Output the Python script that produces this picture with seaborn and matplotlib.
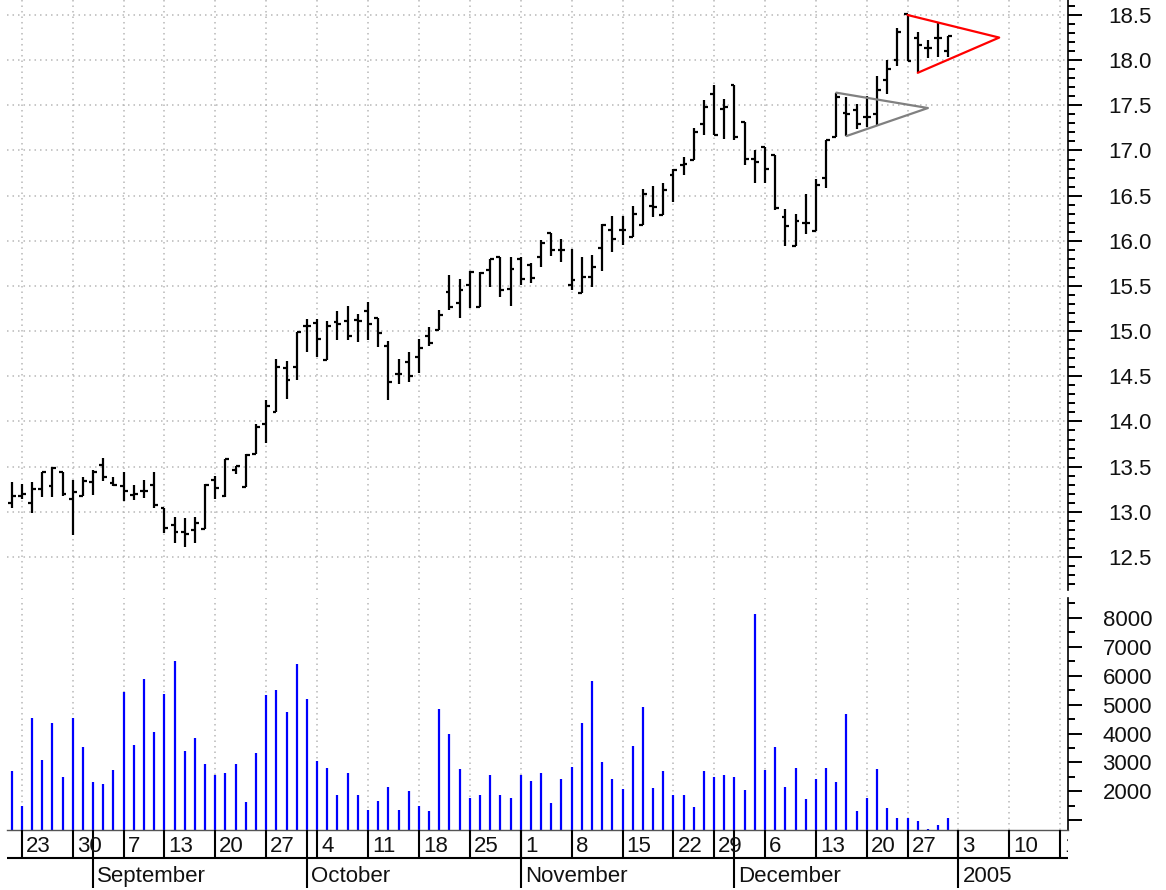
import numpy as np
import pandas as pd
import matplotlib
matplotlib.use("Agg")
import matplotlib.pyplot as plt
from matplotlib.ticker import MultipleLocator, FuncFormatter
import seaborn as sns

# --------------------------
# style
# --------------------------
sns.set_theme(style="white")
plt.rcParams['font.family'] = ['Liberation Sans', 'DejaVu Sans']
plt.rcParams['font.size'] = 16

# --------------------------
# data, Aug 20 2004 .. Dec 31 2004
# --------------------------
opens = [13.10, 13.18, 13.10, 13.25, 13.28, 13.44, 13.14, 13.18, 13.33, 13.52,
         13.32, 13.28, 13.19, 13.23, 13.30, 13.04, 12.85, 12.78, 12.80, 12.81,
         13.35, 13.17, 13.46, 13.27, 13.64, 13.97, 14.11, 14.59, 14.60, 15.06,
         15.09, 14.68, 15.10, 15.11, 15.12, 15.22, 15.14, 14.84, 14.53, 14.66,
         14.71, 14.95, 15.01, 15.43, 15.31, 15.51, 15.27, 15.68, 15.82, 15.47,
         15.80, 15.73, 15.82, 16.09, 15.90, 15.51, 15.42, 15.60, 15.92, 16.12,
         16.12, 16.04, 16.18, 16.38, 16.29, 16.73, 16.84, 16.89, 17.29, 17.62,
         17.46, 17.72, 17.31, 16.91, 17.04, 16.95, 16.26, 15.94, 16.20, 16.11,
         16.70, 17.15, 17.41, 17.45, 17.37, 17.40, 17.78, 18.00, 18.51, 18.24,
         18.14, 18.25, 18.10]
highs = [13.33, 13.31, 13.33, 13.44, 13.50, 13.44, 13.35, 13.39, 13.46, 13.60,
         13.39, 13.44, 13.30, 13.35, 13.44, 13.04, 12.94, 12.93, 12.94, 13.31,
         13.40, 13.58, 13.51, 13.64, 13.97, 14.24, 14.69, 14.67, 14.99, 15.13,
         15.13, 15.11, 15.22, 15.28, 15.19, 15.32, 15.14, 14.89, 14.69, 14.77,
         14.91, 15.05, 15.23, 15.62, 15.58, 15.67, 15.65, 15.80, 15.82, 15.82,
         15.82, 15.75, 16.01, 16.09, 16.02, 15.91, 15.82, 15.84, 16.19, 16.27,
         16.27, 16.39, 16.57, 16.61, 16.64, 16.79, 16.93, 17.25, 17.56, 17.72,
         17.57, 17.72, 17.31, 17.01, 17.04, 16.95, 16.35, 16.30, 16.52, 16.68,
         17.12, 17.64, 17.59, 17.51, 17.60, 17.82, 18.00, 18.36, 18.51, 18.31,
         18.22, 18.42, 18.27]
lows = [13.04, 13.14, 12.99, 13.16, 13.16, 13.18, 12.74, 13.18, 13.19, 13.34,
        13.28, 13.12, 13.13, 13.15, 13.04, 12.76, 12.65, 12.61, 12.65, 12.81,
        13.14, 13.16, 13.42, 13.27, 13.64, 13.76, 14.10, 14.25, 14.46, 14.77,
        14.71, 14.68, 14.90, 14.90, 14.88, 14.90, 14.82, 14.24, 14.41, 14.44,
        14.54, 14.83, 15.01, 15.23, 15.15, 15.26, 15.27, 15.49, 15.38, 15.28,
        15.51, 15.53, 15.71, 15.83, 15.77, 15.46, 15.42, 15.49, 15.67, 15.88,
        15.95, 16.04, 16.18, 16.26, 16.29, 16.43, 16.73, 16.89, 17.17, 17.17,
        17.13, 17.12, 16.84, 16.64, 16.64, 16.34, 15.94, 15.94, 16.08, 16.11,
        16.58, 17.15, 17.16, 17.24, 17.26, 17.27, 17.63, 17.94, 17.99, 17.87,
        18.02, 18.03, 18.03]
closes = [13.18, 13.20, 13.25, 13.44, 13.49, 13.20, 13.22, 13.34, 13.44, 13.38,
          13.30, 13.23, 13.20, 13.23, 13.08, 12.82, 12.78, 12.75, 12.88, 13.30,
          13.26, 13.58, 13.51, 13.63, 13.94, 14.17, 14.60, 14.46, 14.99, 15.06,
          14.91, 15.06, 15.08, 14.95, 15.11, 15.08, 14.98, 14.44, 14.52, 14.50,
          14.81, 14.87, 15.18, 15.27, 15.46, 15.66, 15.64, 15.80, 15.45, 15.69,
          15.58, 15.59, 15.98, 15.90, 15.90, 15.57, 15.60, 15.71, 16.18, 16.02,
          16.12, 16.30, 16.52, 16.37, 16.56, 16.78, 16.85, 17.21, 17.48, 17.17,
          17.48, 17.15, 16.91, 16.87, 16.79, 16.36, 16.16, 16.22, 16.20, 16.62,
          17.12, 17.59, 17.40, 17.29, 17.37, 17.67, 17.90, 18.31, 17.99, 18.17,
          18.14, 18.25, 18.27]
volume = [2690, 1480, 4540, 3070, 4360, 2490, 4540, 3520, 2310, 2250,
          2750, 5450, 3590, 5890, 4040, 5370, 6520, 3390, 3840, 2950,
          2570, 2630, 2950, 1620, 3320, 5320, 5510, 4730, 6410, 5190,
          3060, 2820, 1860, 2630, 1860, 1350, 1660, 2170, 1350, 2030,
          1480, 1340, 4860, 3970, 2770, 1790, 1860, 2560, 1860, 1790,
          2560, 2370, 2620, 1590, 2420, 2830, 4350, 5830, 3000, 2420,
          2100, 3580, 4920, 2110, 2690, 1860, 1860, 1460, 2690, 2490,
          2560, 2490, 2040, 8120, 2750, 3520, 2170, 2810, 1730, 2430,
          2810, 2310, 4670, 1340, 1790, 2770, 1420, 1080, 1080, 970,
          710, 830, 1080]

# triangle patterns (trading-day index, price)
red_tri_x = [88, 97, 89]
red_tri_y = [18.50, 18.25, 17.86]
gray_tri_x = [81, 90, 82]
gray_tri_y = [17.64, 17.47, 17.16]

month_labels = ['September', 'October', 'November', 'December', '2005']

# trading calendar (market holidays removed)
holidays = pd.to_datetime(['2004-09-06', '2004-11-25', '2004-12-24'])
dates = pd.bdate_range('2004-08-20', '2005-01-21')
dates = dates[~dates.isin(holidays)]
cal = pd.DataFrame({'date': dates, 'pos': np.arange(len(dates))})
weeks = cal.groupby(cal['date'].dt.to_period('W-SUN')).first().iloc[1:]
months = cal.groupby(cal['date'].dt.to_period('M')).first().iloc[1:]

x = np.arange(len(closes))
XMIN, XMAX = -0.46, 103.76

# --------------------------
# figure / axes
# --------------------------
W, H = 1166, 890
fig = plt.figure(figsize=(W / 100, H / 100), dpi=100)
L, R = 7 / W, 1061 / W
ax_p = fig.add_axes([L, 300 / H, R, 590 / H])
ax_v = fig.add_axes([L, 60 / H, R, 232 / H])
ax_d = fig.add_axes([L, 0, R, 60 / H])

grid_kw = dict(color='#b8b8b8', lw=1.1, ls=(0, (1, 2.6)))

for ax in (ax_p, ax_v):
    ax.set_xticks(weeks['pos'])
    ax.set_xlim(XMIN, XMAX)
    ax.tick_params(axis='x', length=0, labelbottom=False)
    ax.grid(axis='x', **grid_kw)
    ax.yaxis.tick_right()
    ax.tick_params(axis='y', which='major', length=10, width=1.4, color='black',
                   pad=50.5, labelsize=16, labelcolor='#111111', right=True)
    ax.tick_params(axis='y', which='minor', length=5, width=1.4, color='black', right=True)
    for s in ('left', 'top', 'bottom'):
        ax.spines[s].set_visible(False)
    ax.spines['right'].set_color('black')
    ax.spines['right'].set_linewidth(1.2)

# --------------------------
# price panel (OHLC bars)
# --------------------------
ax_p.vlines(x, lows, highs, color='black', lw=1.6)
ax_p.hlines(opens, x - 0.38, x, color='black', lw=1.6)
ax_p.hlines(closes, x, x + 0.38, color='black', lw=1.6)
sns.lineplot(x=red_tri_x, y=red_tri_y, sort=False, estimator=None,
             color='#ff0000', lw=1.6, ax=ax_p)
sns.lineplot(x=gray_tri_x, y=gray_tri_y, sort=False, estimator=None,
             color='#808080', lw=1.6, ax=ax_p)
ax_p.set_xlim(XMIN, XMAX)
ax_p.set_ylim(12.134, 18.666)
ax_p.set_yticks(np.arange(12.5, 18.51, 0.5))
ax_p.yaxis.set_minor_locator(MultipleLocator(0.1))
ax_p.yaxis.set_major_formatter(FuncFormatter(lambda v, _: f'{v:.1f}'))
ax_p.grid(axis='y', **grid_kw)
ax_p.set_xlabel('')
ax_p.set_ylabel('')
plt.setp(ax_p.get_yticklabels(), ha='right')

# --------------------------
# volume panel
# --------------------------
ax_v.vlines(x, 0, volume, color='#0000ff', lw=1.6)
ax_v.set_xlim(XMIN, XMAX)
ax_v.set_ylim(667, 8685)
ax_v.set_yticks(np.arange(1000, 8001, 1000))
ax_v.yaxis.set_minor_locator(MultipleLocator(500))
ax_v.yaxis.set_major_formatter(FuncFormatter(lambda v, _: '' if v < 1500 else f'{int(v)}'))
ax_v.spines['bottom'].set_visible(True)
ax_v.spines['bottom'].set_color('#555555')
ax_v.spines['bottom'].set_linewidth(1.0)
plt.setp(ax_v.get_yticklabels(), ha='right')

# --------------------------
# date strip
# --------------------------
ax_d.set_xlim(XMIN, XMAX)
ax_d.set_ylim(60, 0)
ax_d.axis('off')
ax_d.hlines(28, XMIN, XMAX, color='black', lw=1.5)
ax_d.vlines(weeks['pos'], 0, 28, color='black', lw=1.5)
ax_d.vlines(months['pos'], 0, 58, color='black', lw=1.5)
for p, d in zip(weeks['pos'], weeks['date']):
    ax_d.text(p + 0.4, 22.5, str(d.day), ha='left', va='baseline',
              fontsize=16, color='#111111', clip_on=True)
for p, lab in zip(months['pos'], month_labels):
    ax_d.text(p + 0.4, 52, lab, ha='left', va='baseline',
              fontsize=16, color='#111111', clip_on=True)

fig.savefig('out.png', dpi=100)
